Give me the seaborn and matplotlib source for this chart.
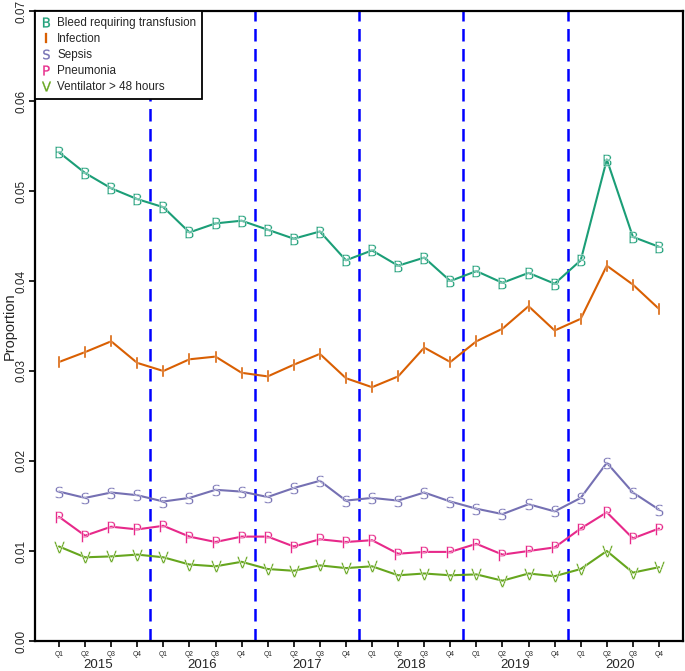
import numpy as np
import pandas as pd
import matplotlib
matplotlib.use("Agg")
import matplotlib.pyplot as plt
from matplotlib.lines import Line2D
import seaborn as sns

sns.set_style("white")
plt.rcParams['font.family'] = ['Liberation Sans', 'DejaVu Sans']

years = ["2015", "2016", "2017", "2018", "2019", "2020"]
quarters = ["Q1", "Q2", "Q3", "Q4"]

bleed = [0.0543, 0.0520, 0.0503, 0.0491, 0.0482, 0.0454, 0.0464, 0.0467,
         0.0457, 0.0447, 0.0455, 0.0423, 0.0434, 0.0417, 0.0426, 0.0400,
         0.0411, 0.0398, 0.0409, 0.0397, 0.0423, 0.0535, 0.0449, 0.0438]
infection = [0.0310, 0.0321, 0.0333, 0.0309, 0.0300, 0.0313, 0.0316, 0.0298,
             0.0294, 0.0307, 0.0319, 0.0292, 0.0282, 0.0294, 0.0326, 0.0310,
             0.0333, 0.0347, 0.0372, 0.0345, 0.0358, 0.0417, 0.0396, 0.0369]
sepsis = [0.0166, 0.0159, 0.0165, 0.0162, 0.0155, 0.0159, 0.0168, 0.0166,
          0.0160, 0.0170, 0.0178, 0.0156, 0.0159, 0.0156, 0.0165, 0.0155,
          0.0147, 0.0141, 0.0152, 0.0144, 0.0159, 0.0198, 0.0165, 0.0146]
pneumonia = [0.0138, 0.0117, 0.0127, 0.0124, 0.0128, 0.0116, 0.0110, 0.0116,
             0.0116, 0.0105, 0.0113, 0.0110, 0.0112, 0.0097, 0.0099, 0.0099,
             0.0108, 0.0096, 0.0100, 0.0104, 0.0125, 0.0143, 0.0114, 0.0125]
ventilator = [0.0105, 0.0093, 0.0094, 0.0096, 0.0093, 0.0085, 0.0083, 0.0088,
              0.0080, 0.0078, 0.0084, 0.0081, 0.0083, 0.0073, 0.0075, 0.0073,
              0.0074, 0.0067, 0.0075, 0.0072, 0.0080, 0.0100, 0.0076, 0.0082]

names = ["Bleed requiring transfusion", "Infection", "Sepsis", "Pneumonia",
         "Ventilator > 48 hours"]
letters = ["B", "I", "S", "P", "V"]
colors = ["#1B9E77", "#D95F02", "#7570B3", "#E7298A", "#66A61E"]
series = [bleed, infection, sepsis, pneumonia, ventilator]

n = len(years) * len(quarters)
idx = np.arange(n)
df = pd.concat([pd.DataFrame({"t": idx, "value": s, "outcome": nm})
                for nm, s in zip(names, series)])

fig = plt.figure(figsize=(6.85, 6.71), dpi=100)
ax = fig.add_axes([35 / 685, 30 / 671, 648 / 685, 630 / 671])

mk = {nm: r"$\mathsf{%s}$" % l for nm, l in zip(names, letters)}
sns.lineplot(data=df, x="t", y="value", hue="outcome", style="outcome",
             palette=dict(zip(names, colors)), markers=mk, dashes=False,
             markersize=8.5, linewidth=1.5, markeredgewidth=0.3, legend=False, ax=ax)

# year boundaries
for b in np.arange(len(quarters), n, len(quarters)) - 0.5:
    ax.axvline(b, color="#0000FF", lw=1.8, ls=(0, (5, 3)), zorder=1)

ax.set_xlim(-0.92, n - 1 + 0.92)
ax.set_ylim(0, 0.07)
yt = np.arange(0, 0.071, 0.01)
ax.set_yticks(yt)
ax.set_yticklabels([f"{v:.2f}" for v in yt], rotation=90, va="center", fontsize=8.5)
ax.set_ylabel("Proportion", fontsize=10.5)
ax.yaxis.set_label_coords(-0.028, 0.5)
ax.set_xlabel("")
ax.set_xticks(idx)
ax.set_xticklabels(quarters * len(years), fontsize=4.8, rotation=0)
ax.tick_params(axis="both", direction="out", length=4, width=1.2, color="black",
               left=True, bottom=True, pad=1.5)
ax.tick_params(axis="x", pad=3, labelrotation=0)

sec = ax.secondary_xaxis("bottom")
sec.set_xticks(np.arange(len(years)) * len(quarters) + 1.5)
sec.set_xticklabels(years, fontsize=9.5, rotation=0)
sec.tick_params(length=0, pad=13)
sec.spines["bottom"].set_visible(False)

for sp in ax.spines.values():
    sp.set_visible(True)
    sp.set_color("black")
    sp.set_linewidth(1.6)

handles = [Line2D([], [], ls="none", marker=r"$\mathsf{%s}$" % l, color=c,
                  markersize=7, markeredgewidth=0.2)
           for l, c in zip(letters, colors)]
leg = ax.legend(handles, names, loc="upper left", borderaxespad=0, fontsize=8.4,
                frameon=True, fancybox=False, framealpha=1, edgecolor="black",
                labelspacing=0.35, handlelength=0.8, handletextpad=0.6,
                borderpad=0.5)
leg.get_frame().set_linewidth(1.3)

fig.savefig("out.png", dpi=100)
